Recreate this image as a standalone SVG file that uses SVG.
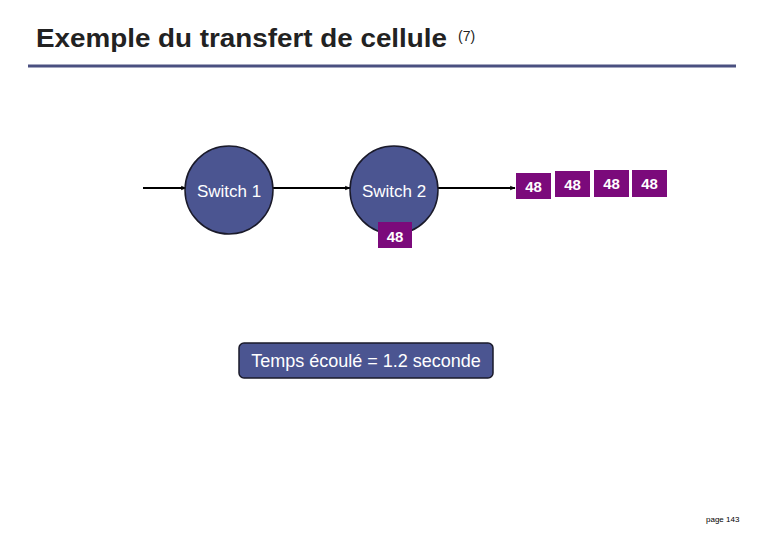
<svg xmlns="http://www.w3.org/2000/svg" width="780" height="540" viewBox="0 0 780 540">
<style>
.node{fill:#4b5591;stroke:#1a1a2a;stroke-width:1.5}
.lbl{font-family:"Liberation Sans",Arial,sans-serif;font-size:17px;fill:#fff;text-anchor:middle}
.cell{fill:#7b0a7b}
.cl{font-family:"Liberation Sans",Arial,sans-serif;font-size:15px;font-weight:bold;fill:#fff;text-anchor:middle}
.conn{stroke:#000;stroke-width:2;fill:none;marker-end:url(#ah)}
</style>
<defs>
<marker id="ah" viewBox="0 0 10 10" refX="9" refY="5" markerWidth="6" markerHeight="6" orient="auto" markerUnits="userSpaceOnUse">
<path d="M0,1 L10,5 L0,9 L3,5 z" fill="#000"/>
</marker>
</defs>
<rect width="780" height="540" fill="#fff"/>
<g id="title">
<text x="36" y="47" font-family="Liberation Sans,Arial,sans-serif" font-size="25" font-weight="bold" fill="#222" textLength="411" lengthAdjust="spacingAndGlyphs">Exemple du transfert de cellule</text>
<text x="458" y="41" font-family="Liberation Sans,Arial,sans-serif" font-size="14" fill="#222">(7)</text>
<line x1="28" y1="66" x2="736" y2="66" stroke="#4a5080" stroke-width="3"/>
</g>
<g id="connectors">
<line class="conn" x1="143" y1="188" x2="186" y2="188"/>
<line class="conn" x1="273" y1="188" x2="350" y2="188"/>
<line class="conn" x1="438" y1="188" x2="515" y2="188"/>
</g>
<g id="switch1">
<circle class="node" cx="229" cy="190" r="44"/>
<text class="lbl" x="229" y="197">Switch 1</text>
</g>
<g id="switch2">
<circle class="node" cx="394" cy="190" r="44"/>
<text class="lbl" x="394" y="197">Switch 2</text>
</g>
<g id="cell-under">
<rect class="cell" x="378" y="222" width="34" height="26"/>
<text class="cl" x="395" y="242">48</text>
</g>
<g id="cell1">
<rect class="cell" x="516" y="173" width="35" height="26"/>
<text class="cl" x="533.5" y="192">48</text>
</g>
<g id="cell2">
<rect class="cell" x="555" y="171" width="35" height="26"/>
<text class="cl" x="572.5" y="190">48</text>
</g>
<g id="cell3">
<rect class="cell" x="594" y="170" width="35" height="27"/>
<text class="cl" x="611.5" y="189">48</text>
</g>
<g id="cell4">
<rect class="cell" x="632" y="170" width="35" height="27"/>
<text class="cl" x="649.5" y="189">48</text>
</g>
<g id="time">
<rect x="239" y="343" width="254" height="35" rx="5" fill="#4b5591" stroke="#1a1a2a" stroke-width="1.5"/>
<text class="lbl" x="366" y="367" style="font-size:18px">Temps écoulé = 1.2 seconde</text>
</g>
<text x="706" y="522" font-family="Liberation Sans,Arial,sans-serif" font-size="8" fill="#000">page 143</text>
</svg>
